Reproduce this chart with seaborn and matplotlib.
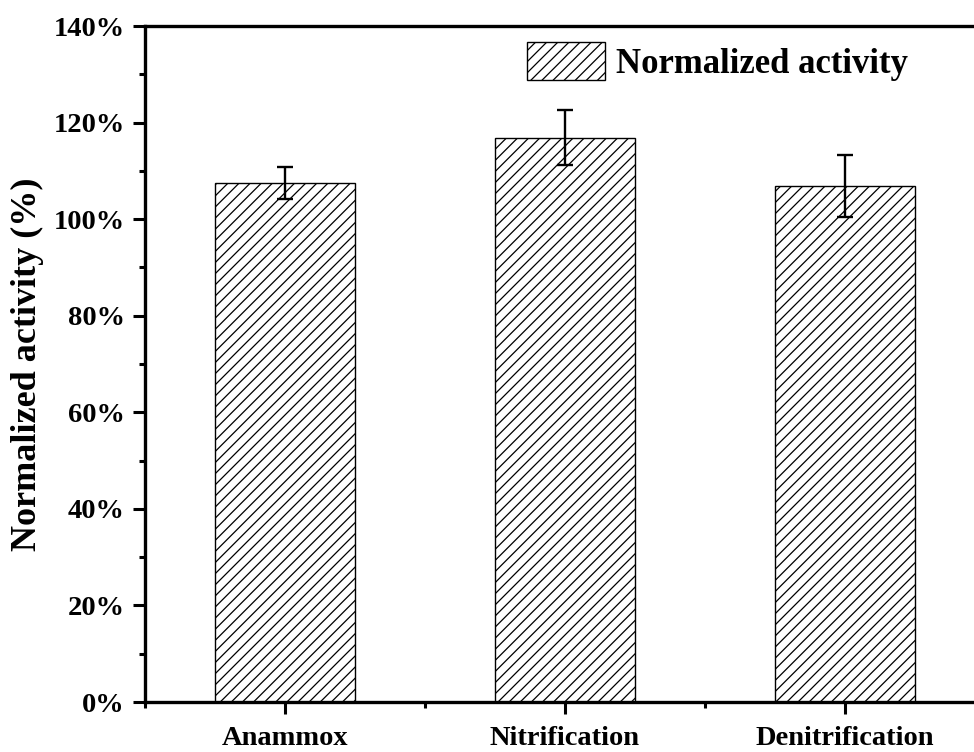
import matplotlib
matplotlib.use("Agg")
import matplotlib.pyplot as plt
import seaborn as sns
import pandas as pd
import numpy as np
from matplotlib.patches import Patch
from matplotlib.ticker import MultipleLocator, FuncFormatter, FixedLocator

categories = ["Anammox", "Nitrification", "Denitrification"]
values = [107.5, 116.9, 106.9]
errors = [3.4, 5.7, 6.4]
legend_label = "Normalized activity"
ylabel = "Normalized activity (%)"

sns.set_theme(style="ticks")
plt.rcParams['font.family'] = ['Liberation Serif', 'DejaVu Serif']
plt.rcParams['font.weight'] = 'bold'
plt.rcParams['text.color'] = 'black'
plt.rcParams['axes.labelcolor'] = 'black'
plt.rcParams['hatch.linewidth'] = 0.9

fig = plt.figure(figsize=(9.74, 7.52), dpi=100)
ax = fig.add_axes([145/974, 1 - 702/752, (985 - 145)/974, (702 - 26)/752])

df = pd.DataFrame({"cat": categories, "val": values})
sns.barplot(data=df, x="cat", y="val", ax=ax, color="white", edgecolor="black",
            linewidth=1.0, width=0.5, errorbar=None, saturation=1)
for p in ax.patches:
    p.set_hatch("///")
    p.set_facecolor("white")
    p.set_edgecolor("black")

xs = np.arange(len(categories))
ax.errorbar(xs, values, yerr=errors, fmt="none", ecolor="black",
            elinewidth=1.7, capsize=5.5, capthick=1.7)

ax.set_xlim(-0.5, 2.5)
ax.set_ylim(0, 140)
ax.yaxis.set_major_locator(MultipleLocator(20))
ax.yaxis.set_minor_locator(MultipleLocator(10))
ax.yaxis.set_major_formatter(FuncFormatter(lambda v, p: f"{int(round(v))}%"))
ax.xaxis.set_minor_locator(FixedLocator([-0.5, 0.5, 1.5, 2.5]))

for s in ["left", "bottom", "top", "right"]:
    ax.spines[s].set_linewidth(2.4)
    ax.spines[s].set_color("black")

ax.tick_params(axis="both", which="major", direction="out", length=8.5, width=2.2,
               labelsize=20.5, color="black", labelcolor="black", pad=6)
ax.tick_params(axis="both", which="minor", direction="out", length=4.5, width=2.2,
               color="black")
ax.tick_params(axis="x", which="major", pad=9)
ax.tick_params(top=False, right=False, which="both")

for lab in ax.get_xticklabels() + ax.get_yticklabels():
    lab.set_fontweight("bold")

ax.set_xlabel("")
ax.set_ylabel(ylabel, fontsize=26, fontweight="bold", color="black", labelpad=7)

handle = Patch(facecolor="white", edgecolor="black", hatch="///", linewidth=1.0)
ax.legend([handle], [legend_label], loc="upper left",
          bbox_to_anchor=(527/974, 1 - 42/752), bbox_transform=fig.transFigure,
          frameon=False, prop={"family": "Liberation Serif", "weight": "bold", "size": 25},
          handlelength=2.25, handleheight=1.3, handletextpad=0.3, borderaxespad=0.0,
          borderpad=0.0)

fig.savefig("out.png", dpi=100)
